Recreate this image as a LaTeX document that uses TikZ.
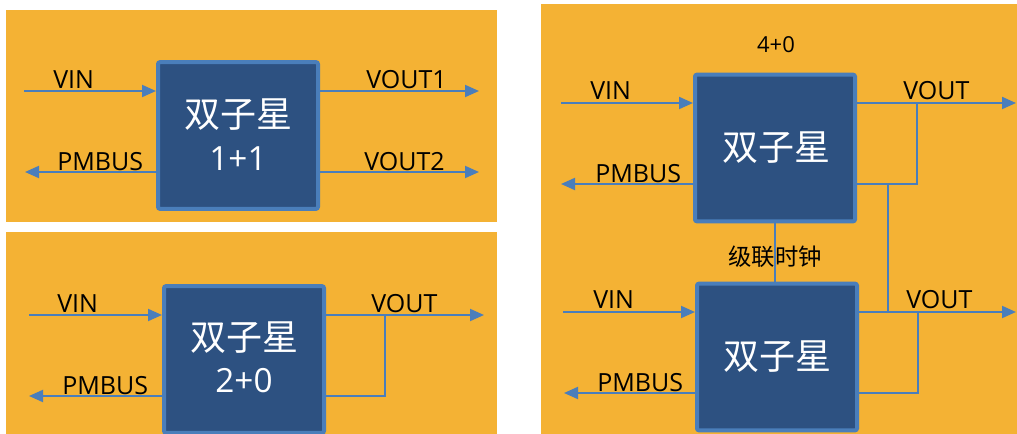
\documentclass[tikz,border=0pt]{standalone}
\usepackage{fontspec}
\setmainfont{Open Sans}
\newfontfamily\cjk{Noto Sans CJK SC}
\usetikzlibrary{arrows.meta}
\definecolor{panelc}{HTML}{F4B234}
\definecolor{boxfill}{HTML}{2D5181}
\definecolor{boxline}{HTML}{4A7EBA}
\definecolor{wirec}{HTML}{4A7EBB}
\tikzset{
  panel/.style={fill=panelc, draw=none},
  starbox/.style={draw=boxline, line width=3pt, fill=boxfill, rounded corners=1.5pt,
    minimum width=120pt, minimum height=110pt, inner sep=0pt, text=white, align=center},
  wire/.style={draw=wirec, line width=1.5pt},
  arr/.style={wire, -{Triangle[length=10.5pt,width=9pt]}},
  lbl/.style={anchor=base west, inner sep=0pt, font=\fontsize{18.75pt}{20pt}\selectfont},
  cjkbig/.style={font=\cjk\fontsize{27pt}{30pt}\selectfont},
}
\begin{document}
\begin{tikzpicture}[x=0.75pt,y=-0.75pt]
\useasboundingbox (0,0) rectangle (1017,434);
\clip (0,0) rectangle (1017,434);
% panels
\fill[panel] (6,10) rectangle (497,222);
\fill[panel] (6,232) rectangle (497,445);
\fill[panel] (541,4) rectangle (1025,445);

% ===== top-left: 1+1 =====
\node[starbox] (b1) at (238,135.5) {};
\node[cjkbig, text=white] (b1t) at (238,114.5) {双子星};
\node[text=white, font=\fontsize{25pt}{28pt}\selectfont] (b1n) at (238,159) {1+1};
\coordinate (a1) at (24,91);
\coordinate (a2) at (25,172);
\coordinate (a3) at (479,91);
\coordinate (a4) at (479,172);
\draw[arr] (a1) -- (a1 -| b1.west);
\draw[arr] (a2 -| b1.west) -- (a2);
\draw[arr] (a3 -| b1.east) -- (a3);
\draw[arr] (a4 -| b1.east) -- (a4);
\node[lbl] (l1) at (53,89) {VIN};
\node[lbl] (l2) at (57,171) {PMBUS};
\node[lbl] (l3) at (366,89) {VOUT1};
\node[lbl] (l4) at (364,171) {VOUT2};

% ===== bottom-left: 2+0 =====
\node[starbox] (b2) at (244,359.5) {};
\node[cjkbig, text=white] (b2t) at (244,338) {双子星};
\node[text=white, font=\fontsize{25pt}{28pt}\selectfont] (b2n) at (244,381) {2+0};
\coordinate (c1) at (29,315);
\coordinate (c2) at (29,396);
\coordinate (c3) at (484,315);
\coordinate (c4) at (385,396);
\coordinate (c5) at (385,315);
\draw[arr] (c1) -- (c1 -| b2.west);
\draw[arr] (c2 -| b2.west) -- (c2);
\draw[arr] (c3 -| b2.east) -- (c3);
\draw[wire] (c4 -| b2.east) -- (c4) -- (c5);
\node[lbl] (m1) at (57,313) {VIN};
\node[lbl] (m2) at (62,395) {PMBUS};
\node[lbl] (m3) at (371,313) {VOUT};

% ===== right: 4+0 =====
\node[font=\fontsize{16.5pt}{18pt}\selectfont] (t40) at (776,45) {4+0};
\node[starbox] (b3) at (775,148) {};
\node[starbox] (b4) at (777,357) {};
\draw[wire] (b3.south) -- (b3.south |- b4.north);
\node[font=\cjk\fontsize{17.5pt}{19pt}\selectfont, inner sep=0pt] (clk) at (775,257) {级联时钟};
\node[cjkbig, text=white] (b3t) at (776,148) {双子星};
\node[cjkbig, text=white] (b4t) at (777,357) {双子星};
% top unit
\coordinate (d1) at (561,103);
\coordinate (d2) at (561,184);
\coordinate (d3) at (1016,103);
\coordinate (d4) at (917,184);
\coordinate (d5) at (917,103);
\coordinate (j1) at (888,184);
\coordinate (j2) at (888,312);
\draw[arr] (d1) -- (d1 -| b3.west);
\draw[arr] (d2 -| b3.west) -- (d2);
\draw[arr] (d3 -| b3.east) -- (d3);
\draw[wire] (d4 -| b3.east) -- (d4) -- (d5);
\draw[wire] (j1) -- (j2);
% bottom unit
\coordinate (e1) at (563,312);
\coordinate (e2) at (564,393);
\coordinate (e3) at (1016,312);
\coordinate (e4) at (918,393);
\coordinate (e5) at (918,312);
\draw[arr] (e1) -- (e1 -| b4.west);
\draw[arr] (e2 -| b4.west) -- (e2);
\draw[arr] (e3 -| b4.east) -- (e3);
\draw[wire] (e4 -| b4.east) -- (e4) -- (e5);
\node[lbl] (n1) at (590,100) {VIN};
\node[lbl] (n2) at (595,183) {PMBUS};
\node[lbl] (n3) at (903,100) {VOUT};
\node[lbl] (n4) at (593,309) {VIN};
\node[lbl] (n5) at (597,392) {PMBUS};
\node[lbl] (n6) at (906,309) {VOUT};
\end{tikzpicture}
\end{document}
